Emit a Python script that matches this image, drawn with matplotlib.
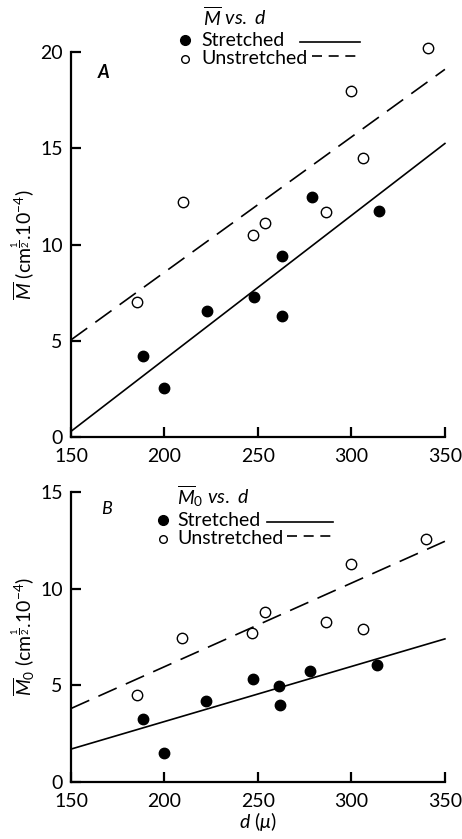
import numpy as np
import matplotlib
matplotlib.use("Agg")
import matplotlib.pyplot as plt

plt.rcParams['font.family'] = ['Lato', 'DejaVu Sans']
plt.rcParams['mathtext.fontset'] = 'custom'
plt.rcParams['mathtext.rm'] = 'Lato'
plt.rcParams['mathtext.it'] = 'Lato:italic'
plt.rcParams['mathtext.bf'] = 'Lato:bold'

# Panel A: mean M vs d
a_str_d = [188.5, 200, 223, 248, 263, 263, 279, 315]
a_str_m = [4.2, 2.55, 6.55, 7.3, 9.4, 6.3, 12.45, 11.75]
a_uns_d = [185.5, 210, 247.5, 254, 286.5, 300, 306, 341]
a_uns_m = [7.0, 12.2, 10.5, 11.1, 11.7, 17.95, 14.5, 20.2]

# Panel B: mean M0 vs d
b_str_d = [188.5, 200, 222, 247.5, 261, 262, 278, 313.5]
b_str_m = [3.25, 1.5, 4.2, 5.35, 4.95, 4.0, 5.75, 6.05]
b_uns_d = [185.5, 209.5, 247, 254, 286.5, 300, 306, 340]
b_uns_m = [4.5, 7.45, 7.7, 8.8, 8.25, 11.3, 7.9, 12.55]

# fitted lines (end points)
fit_d = [150, 350]
a_str_fit = [0.3, 15.25]
a_uns_fit = [5.05, 19.1]
b_str_fit = [1.7, 7.4]
b_uns_fit = [3.8, 12.45]

FS = 14

fig = plt.figure(figsize=(4.62, 8.39), dpi=100)
axA = fig.add_axes([0.1537, 0.479, 0.8093, 0.459])
axB = fig.add_axes([0.1537, 0.068, 0.8093, 0.3456])


def style(ax, ymax, yticks):
    ax.set_xlim(150, 350)
    ax.set_ylim(0, ymax)
    ax.set_xticks([150, 200, 250, 300, 350])
    ax.set_yticks(yticks)
    for s in ['top', 'right']:
        ax.spines[s].set_visible(False)
    for s in ['left', 'bottom']:
        ax.spines[s].set_linewidth(1.6)
    ax.tick_params(direction='in', length=7, width=1.6, labelsize=FS)
    ax.tick_params(axis='x', pad=8)
    ax.tick_params(axis='y', pad=6)
    ax.patch.set_alpha(0)


def draw(ax, sd, sm, ud, um, sfit, ufit):
    ax.plot(fit_d, sfit, color='black', lw=1.2, clip_on=False)
    ax.plot(fit_d, ufit, color='black', lw=1.2, dashes=(12, 6), clip_on=False)
    ax.plot(sd, sm, 'o', color='black', ms=7.5, clip_on=False)
    ax.plot(ud, um, 'o', mfc='white', mec='black', mew=1.0, ms=7.5, clip_on=False)


draw(axA, a_str_d, a_str_m, a_uns_d, a_uns_m, a_str_fit, a_uns_fit)
style(axA, 20, [0, 5, 10, 15, 20])
axA.set_ylabel(r'$\overline{M}$ (cm$^{\frac{1}{2}}$.10$^{-4}$)', fontsize=FS, labelpad=2)

draw(axB, b_str_d, b_str_m, b_uns_d, b_uns_m, b_str_fit, b_uns_fit)
style(axB, 15, [0, 5, 10, 15])
axB.set_ylabel(r'$\overline{M}_0$ (cm$^{\frac{1}{2}}$.10$^{-4}$)', fontsize=FS, labelpad=2)
axB.set_xlabel(r'$d$ ($\mu$)', fontsize=FS, labelpad=0)

# panel letters
fig.text(104 / 462, 1 - 72 / 839, 'A', fontsize=13, style='italic', weight='bold', ha='center', va='center')
fig.text(107 / 462, 1 - 509 / 839, 'B', fontsize=13, style='italic', ha='center', va='center')


# in-plot legends, drawn in pixel coords of the figure
def legend(title, tx, ty, mx, y1, y2, tx2, l1, l2):
    W, H = 462, 839
    fig.text(tx / W, 1 - ty / H, title, fontsize=FS, ha='left', va='center')
    fig.text(tx2 / W, 1 - y1 / H, 'Stretched', fontsize=FS, ha='left', va='center')
    fig.text(tx2 / W, 1 - y2 / H, 'Unstretched', fontsize=FS, ha='left', va='center')
    fig.lines.append(plt.Line2D([mx / W], [1 - y1 / H], marker='o', color='black', ms=7,
                                transform=fig.transFigure, figure=fig))
    fig.lines.append(plt.Line2D([mx / W], [1 - y2 / H], marker='o', mfc='white', mec='black',
                                mew=1.0, ms=5.5, transform=fig.transFigure, figure=fig))
    fig.lines.append(plt.Line2D([l1[0] / W, l1[1] / W], [1 - (y1 + 2) / H] * 2, color='black',
                                lw=1.2, transform=fig.transFigure, figure=fig))
    fig.lines.append(plt.Line2D([l2[0] / W, l2[1] / W], [1 - (y2 - 3) / H] * 2, color='black',
                                lw=1.2, dashes=(6, 4), transform=fig.transFigure, figure=fig))


legend(r'$\overline{M}$ $vs.$ $d$', 203, 17, 185, 40, 59, 201, (300, 360), (312, 358))
legend(r'$\overline{M}_0$ $vs.$ $d$', 177, 496, 163, 520, 539, 177, (267, 333), (287, 335))

fig.savefig('out.png', dpi=100)
